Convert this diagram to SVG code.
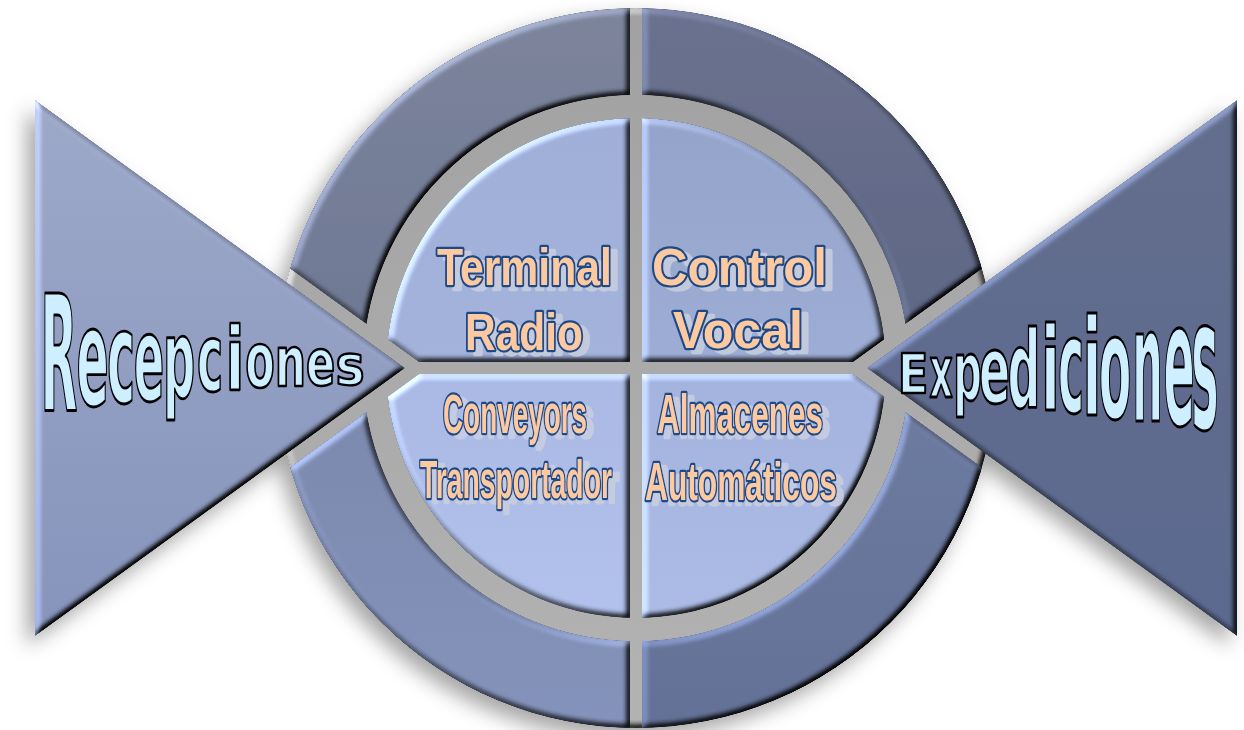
<svg xmlns="http://www.w3.org/2000/svg" width="1244" height="730" viewBox="0 0 1244 730">
<defs>
<style>
.q{font-family:"Liberation Sans",Arial,sans-serif;font-weight:bold;fill:#fdc9a0;stroke:#1d4a87;stroke-width:4.5;stroke-linejoin:round;paint-order:stroke}
.big{font-family:"DejaVu Sans",sans-serif;font-weight:bold;font-size:100px;fill:#cdefff;stroke:#000;stroke-width:2.2;vector-effect:non-scaling-stroke;stroke-linejoin:round;text-anchor:middle}
</style>
<filter id="shadow" x="-10%" y="-10%" width="120%" height="125%">
<feDropShadow dx="-8" dy="10" stdDeviation="10" flood-color="#000" flood-opacity="0.35"/>
</filter>
<filter id="tshadow" x="-10%" y="-20%" width="125%" height="150%">
<feFlood flood-color="#c9cedf" flood-opacity="0.85"/>
<feComposite in2="SourceAlpha" operator="in"/>
<feOffset dx="7" dy="4" result="sh"/>
<feMerge><feMergeNode in="sh"/><feMergeNode in="SourceGraphic"/></feMerge>
</filter>
<filter id="bevel" x="-5%" y="-5%" width="110%" height="110%" color-interpolation-filters="sRGB">
<feGaussianBlur in="SourceAlpha" stdDeviation="3" result="b"/>
<feDiffuseLighting in="b" surfaceScale="4" diffuseConstant="1" lighting-color="#fff" result="d"><feDistantLight azimuth="225" elevation="45"/></feDiffuseLighting>
<feComposite in="SourceGraphic" in2="d" operator="arithmetic" k1="1.41" k2="0" k3="0" k4="0" result="lit"/>
<feComposite in="lit" in2="SourceAlpha" operator="in"/>
</filter>
<linearGradient id="gL" x1="0" y1="0" x2="0" y2="1"><stop offset="0" stop-color="#9eaaca"/><stop offset="1" stop-color="#8795bd"/></linearGradient>
<linearGradient id="gR" x1="0" y1="0" x2="0" y2="1"><stop offset="0" stop-color="#646f8e"/><stop offset="1" stop-color="#5c6a91"/></linearGradient>
<linearGradient id="gGray" x1="0" y1="0" x2="0" y2="1"><stop offset="0" stop-color="#a2a2a2"/><stop offset="1" stop-color="#b4b4b4"/></linearGradient>
<linearGradient id="rTL" x1="0" y1="0" x2="0" y2="1"><stop offset="0" stop-color="#7e869d"/><stop offset="1" stop-color="#6e7894"/></linearGradient>
<linearGradient id="rTR" x1="0" y1="0" x2="0" y2="1"><stop offset="0" stop-color="#6b7390"/><stop offset="1" stop-color="#5d6684"/></linearGradient>
<linearGradient id="rBL" x1="0" y1="0" x2="0" y2="1"><stop offset="0" stop-color="#7c89ae"/><stop offset="1" stop-color="#8594bc"/></linearGradient>
<linearGradient id="rBR" x1="0" y1="0" x2="0" y2="1"><stop offset="0" stop-color="#6f7da2"/><stop offset="1" stop-color="#647298"/></linearGradient>
<linearGradient id="dT" x1="0" y1="0" x2="0" y2="1"><stop offset="0" stop-color="#a0b0d8"/><stop offset="1" stop-color="#a4b4dc"/></linearGradient>
<linearGradient id="dTR" x1="0" y1="0" x2="0" y2="1"><stop offset="0" stop-color="#95a4ca"/><stop offset="1" stop-color="#9eaed6"/></linearGradient>
<linearGradient id="dB" x1="0" y1="0" x2="0" y2="1"><stop offset="0" stop-color="#aabae4"/><stop offset="1" stop-color="#b3c3ee"/></linearGradient>
<linearGradient id="dBR" x1="0" y1="0" x2="0" y2="1"><stop offset="0" stop-color="#a4b4de"/><stop offset="1" stop-color="#adbde8"/></linearGradient>
<mask id="ringMask" maskUnits="userSpaceOnUse" x="0" y="0" width="1244" height="730">
<rect width="1244" height="730" fill="#000"/>
<circle cx="636" cy="368" r="360" fill="#fff"/>
<circle cx="636" cy="368" r="273" fill="#000"/>
<rect x="630" y="0" width="12" height="730" fill="#000"/>
<polygon points="35,100 405,368 35,636" fill="#000" stroke="#000" stroke-width="26"/>
<polygon points="1237,100 867,368 1237,636" fill="#000" stroke="#000" stroke-width="26"/>
</mask>
<mask id="discMask" maskUnits="userSpaceOnUse" x="0" y="0" width="1244" height="730">
<rect width="1244" height="730" fill="#000"/>
<circle cx="636" cy="368" r="250" fill="#fff"/>
<rect x="630" y="0" width="12" height="730" fill="#000"/>
<rect x="0" y="362" width="1244" height="12" fill="#000"/>
<polygon points="35,100 405,368 35,636" fill="#000" stroke="#000" stroke-width="26"/>
<polygon points="1237,100 867,368 1237,636" fill="#000" stroke="#000" stroke-width="26"/>
</mask>
</defs>
<rect width="1244" height="730" fill="#fff"/>
<g id="diagram" filter="url(#shadow)">
<g id="backdrop" filter="url(#bevel)"><circle cx="636" cy="368" r="360" fill="url(#gGray)"/></g>
<g id="ring" filter="url(#bevel)">
<g mask="url(#ringMask)">
<rect x="270" y="0" width="366" height="368" fill="url(#rTL)"/>
<rect x="636" y="0" width="366" height="368" fill="url(#rTR)"/>
<rect x="270" y="368" width="366" height="362" fill="url(#rBL)"/>
<rect x="636" y="368" width="366" height="362" fill="url(#rBR)"/>
</g>
</g>
<g id="disc" filter="url(#bevel)">
<g mask="url(#discMask)">
<rect x="380" y="110" width="256" height="258" fill="url(#dT)"/>
<rect x="636" y="110" width="256" height="258" fill="url(#dTR)"/>
<rect x="380" y="368" width="256" height="260" fill="url(#dB)"/>
<rect x="636" y="368" width="256" height="260" fill="url(#dBR)"/>
</g>
</g>
<g id="recepciones-shape" filter="url(#bevel)"><polygon points="35,100 405,368 35,636" fill="url(#gL)"/></g>
<g id="expediciones-shape" filter="url(#bevel)"><polygon points="1237,100 867,368 1237,636" fill="url(#gR)"/></g>
</g>
<g id="node-terminal-radio" filter="url(#tshadow)">
<text class="q" x="437" y="285" font-size="52" textLength="175" lengthAdjust="spacingAndGlyphs">Terminal</text>
<text class="q" x="465" y="350" font-size="52" textLength="118" lengthAdjust="spacingAndGlyphs">Radio</text>
</g>
<g id="node-control-vocal" filter="url(#tshadow)">
<text class="q" x="652" y="285" font-size="52" textLength="175" lengthAdjust="spacingAndGlyphs">Control</text>
<text class="q" x="673" y="348" font-size="52" textLength="130" lengthAdjust="spacingAndGlyphs">Vocal</text>
</g>
<g id="node-conveyors" filter="url(#tshadow)">
<text class="q" x="443" y="433" font-size="55" textLength="144" lengthAdjust="spacingAndGlyphs">Conveyors</text>
<text class="q" x="420" y="498" font-size="53" textLength="192" lengthAdjust="spacingAndGlyphs">Transportador</text>
</g>
<g id="node-almacenes" filter="url(#tshadow)">
<text class="q" x="657" y="433" font-size="55" textLength="166" lengthAdjust="spacingAndGlyphs">Almacenes</text>
<text class="q" x="645" y="500" font-size="53" textLength="192" lengthAdjust="spacingAndGlyphs">Automáticos</text>
</g>
<g id="node-recepciones">
<text class="big" transform="translate(59,410) scale(0.48,1.60)">R</text>
<text class="big" transform="translate(92.5,405) scale(0.475,1.36)">e</text>
<text class="big" transform="translate(121,402) scale(0.475,1.27)">c</text>
<text class="big" transform="translate(149,400) scale(0.45,1.18)">e</text>
<text class="big" transform="translate(179,397) scale(0.45,1.09)">p</text>
<text class="big" transform="translate(210,391) scale(0.44,0.93)">c</text>
<text class="big" transform="translate(235,389) scale(0.55,0.88)">i</text>
<text class="big" transform="translate(260,387) scale(0.43,0.76)">o</text>
<text class="big" transform="translate(290.5,386) scale(0.44,0.69)">n</text>
<text class="big" transform="translate(320.5,385) scale(0.43,0.64)">e</text>
<text class="big" transform="translate(350,384) scale(0.49,0.55)">s</text>
</g>
<g id="node-expediciones">
<text class="big" transform="translate(913,393) scale(0.45,0.55)">E</text>
<text class="big" transform="translate(941,397) scale(0.36,0.71)">x</text>
<text class="big" transform="translate(967.5,400) scale(0.40,0.82)">p</text>
<text class="big" transform="translate(994.5,403) scale(0.46,0.95)">e</text>
<text class="big" transform="translate(1024,406.5) scale(0.46,1.07)">d</text>
<text class="big" transform="translate(1050.5,410) scale(0.55,1.16)">i</text>
<text class="big" transform="translate(1071,412) scale(0.44,1.31)">c</text>
<text class="big" transform="translate(1092,415) scale(0.55,1.34)">i</text>
<text class="big" transform="translate(1115,417.5) scale(0.475,1.45)">o</text>
<text class="big" transform="translate(1147.5,421) scale(0.43,1.58)">n</text>
<text class="big" transform="translate(1179,425) scale(0.46,1.73)">e</text>
<text class="big" transform="translate(1205,428) scale(0.46,1.84)">s</text>
</g>
<g id="connectors"/>
</svg>
